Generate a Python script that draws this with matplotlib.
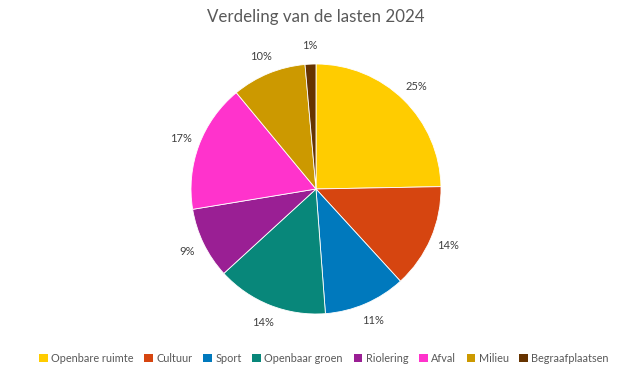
import matplotlib.pyplot as plt
from matplotlib.patches import Patch

plt.rcParams['font.family'] = ['Lato', 'DejaVu Sans']

# Data (share of total costs, %)
categories = ['Openbare ruimte', 'Cultuur', 'Sport', 'Openbaar groen',
              'Riolering', 'Afval', 'Milieu', 'Begraafplaatsen']
shares = [24.7, 13.5, 10.6, 14.4, 9.2, 16.6, 9.6, 1.4]
colors = ['#FFCC00', '#D64510', '#0079BD', '#08877A',
          '#9A1F94', '#FF33CC', '#CC9900', '#663300']

fig = plt.figure(figsize=(6.23, 3.77), dpi=100)

# Pie centred at about (316, 189) px with a radius of 125 px
ax = fig.add_axes([(316 - 125) / 623, (377 - 189 - 125) / 377, 250 / 623, 250 / 377])
ax.pie(shares, colors=colors, startangle=90, counterclock=False,
       autopct='%1.0f%%', pctdistance=1.15,
       wedgeprops={'edgecolor': 'white', 'linewidth': 0.6},
       textprops={'fontsize': 8, 'color': '#404040'})
ax.set_xlim(-1, 1)
ax.set_ylim(-1, 1)
ax.set_aspect('equal')

fig.text(0.507, 1 - 17 / 377, 'Verdeling van de lasten 2024', ha='center', va='center',
         fontsize=12.2, color='#595959')

handles = [Patch(facecolor=c, edgecolor='none') for c in colors]
fig.legend(handles, categories, loc='center', bbox_to_anchor=(0.52, 1 - 358 / 377),
           ncol=len(categories), frameon=False, fontsize=7.8, handlelength=0.8,
           handleheight=0.8, handletextpad=0.3, columnspacing=1.0,
           labelcolor='#595959')

fig.savefig('out.png', dpi=100)
